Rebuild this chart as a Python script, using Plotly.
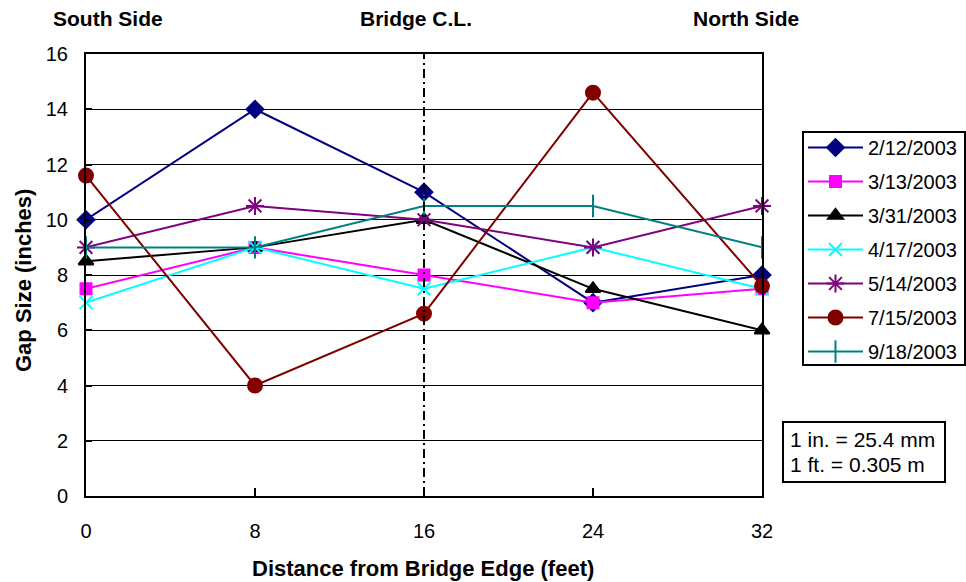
import plotly.graph_objects as go

# Gap size readings (inches) at positions across the bridge deck (feet)
distance_ft = [0, 8, 16, 24, 32]
survey_dates = ["2/12/2003", "3/13/2003", "3/31/2003", "4/17/2003",
                "5/14/2003", "7/15/2003", "9/18/2003"]
gap_0212 = [10, 14, 11, 7, 8]
gap_0313 = [7.5, 9, 8, 7, 7.5]
gap_0331 = [8.5, 9, 10, 7.5, 6]
gap_0417 = [7, 9, 7.5, 9, 7.5]
gap_0514 = [9, 10.5, 10, 9, 10.5]
gap_0715 = [11.6, 4, 6.6, 14.6, 7.6]
gap_0918 = [9, 9, 10.5, 10.5, 9]
y_ticks = [0, 2, 4, 6, 8, 10, 12, 14, 16]
x_ticks = [0, 8, 16, 24, 32]

series = [gap_0212, gap_0313, gap_0331, gap_0417, gap_0514, gap_0715, gap_0918]
colors = ["#000080", "#FF00FF", "#000000", "#00FFFF", "#800080", "#800000", "#008080"]
symbols = ["diamond", "square", "triangle-up", "x-thin-open", "asterisk-open",
           "circle", "line-ns-open"]
sizes = [13, 11, 13, 13, 15, 14, 16]

FONT = "Arial, Liberation Sans, sans-serif"

# plot area in pixels: x 86..762, y 54..496
W, H = 966, 582
L, R, T, B = 86, 762, 54, 496


def px(xpix):
    return (xpix - L) / (R - L)


def py(ypix):
    return (B - ypix) / (B - T)


fig = go.Figure()
for i, (name, vals) in enumerate(zip(survey_dates, series)):
    fig.add_trace(go.Scatter(
        x=distance_ft, y=vals, name=name, mode="lines+markers",
        legendgroup=name,
        line=dict(color=colors[i], width=2),
        marker=dict(symbol=symbols[i], size=sizes[i], color=colors[i],
                    line=dict(color=colors[i], width=2)),
        cliponaxis=False,
    ))

# Bridge centreline
fig.add_shape(type="line", xref="x", yref="paper", x0=16, x1=16, y0=0, y1=1,
              line=dict(color="black", width=2, dash="9px,4px,2px,4px"))

# Legend frame
fig.add_shape(type="rect", xref="paper", yref="paper",
              x0=px(803), x1=px(965), y0=py(365), y1=py(132),
              line=dict(color="black", width=2), fillcolor="white", layer="below")

# Unit conversion box
fig.add_shape(type="rect", xref="paper", yref="paper",
              x0=px(783), x1=px(945), y0=py(482), y1=py(422),
              line=dict(color="black", width=2), fillcolor="white", layer="below")
for line_text, ypix in [("1 in. = 25.4 mm", 439), ("1 ft. = 0.305 m", 464)]:
    fig.add_annotation(text=line_text, xref="paper", yref="paper",
                       x=px(788), y=py(ypix), xanchor="left", yanchor="middle",
                       showarrow=False,
                       font=dict(size=21, family=FONT, color="black"))

fig.update_layout(
    width=W, height=H,
    margin=dict(l=L, r=W - R, t=T, b=H - B, autoexpand=False),
    paper_bgcolor="white", plot_bgcolor="white",
    font=dict(family=FONT, color="black", size=20),
    showlegend=True,
    legend=dict(
        x=px(803), y=py(128), xanchor="left", yanchor="top",
        borderwidth=0, bgcolor="rgba(0,0,0,0)",
        font=dict(family=FONT, size=20, color="black"),
        traceorder="grouped", tracegroupgap=5,
        itemwidth=55,
    ),
    xaxis=dict(
        range=[0, 32], tickvals=x_ticks, ticks="inside", ticklen=8,
        tickwidth=2, tickcolor="black",
        showline=True, linecolor="black", linewidth=2, mirror=True,
        showgrid=False, zeroline=False, automargin=False,
        tickfont=dict(size=20), ticklabelstandoff=16,
    ),
    yaxis=dict(
        range=[0, 16], tickvals=y_ticks, ticks="inside", ticklen=6,
        tickwidth=2, tickcolor="black",
        showline=True, linecolor="black", linewidth=2, mirror=True,
        showgrid=True, gridcolor="black", gridwidth=1, zeroline=False,
        automargin=False,
        tickfont=dict(size=20), ticklabelstandoff=12,
    ),
)

# Axis titles
fig.add_annotation(text="<b>Distance from Bridge Edge (feet)</b>",
                   xref="paper", yref="paper", x=px(423), y=py(568),
                   xanchor="center", yanchor="middle", showarrow=False,
                   font=dict(size=22, family=FONT, color="black"))
fig.add_annotation(text="<b>Gap Size (inches)</b>", textangle=-90,
                   xref="paper", yref="paper", x=px(23), y=py(281),
                   xanchor="center", yanchor="middle", showarrow=False,
                   font=dict(size=22, family=FONT, color="black"))

# Section labels above the plot
headers = [("South Side", 108), ("Bridge C.L.", 416), ("North Side", 746)]
for text, xpix in headers:
    fig.add_annotation(text=f"<b>{text}</b>", xref="paper", yref="paper",
                       x=px(xpix), y=py(18), xanchor="center", yanchor="middle",
                       showarrow=False,
                       font=dict(size=21, family=FONT, color="black"))

fig.write_html("out.html")
